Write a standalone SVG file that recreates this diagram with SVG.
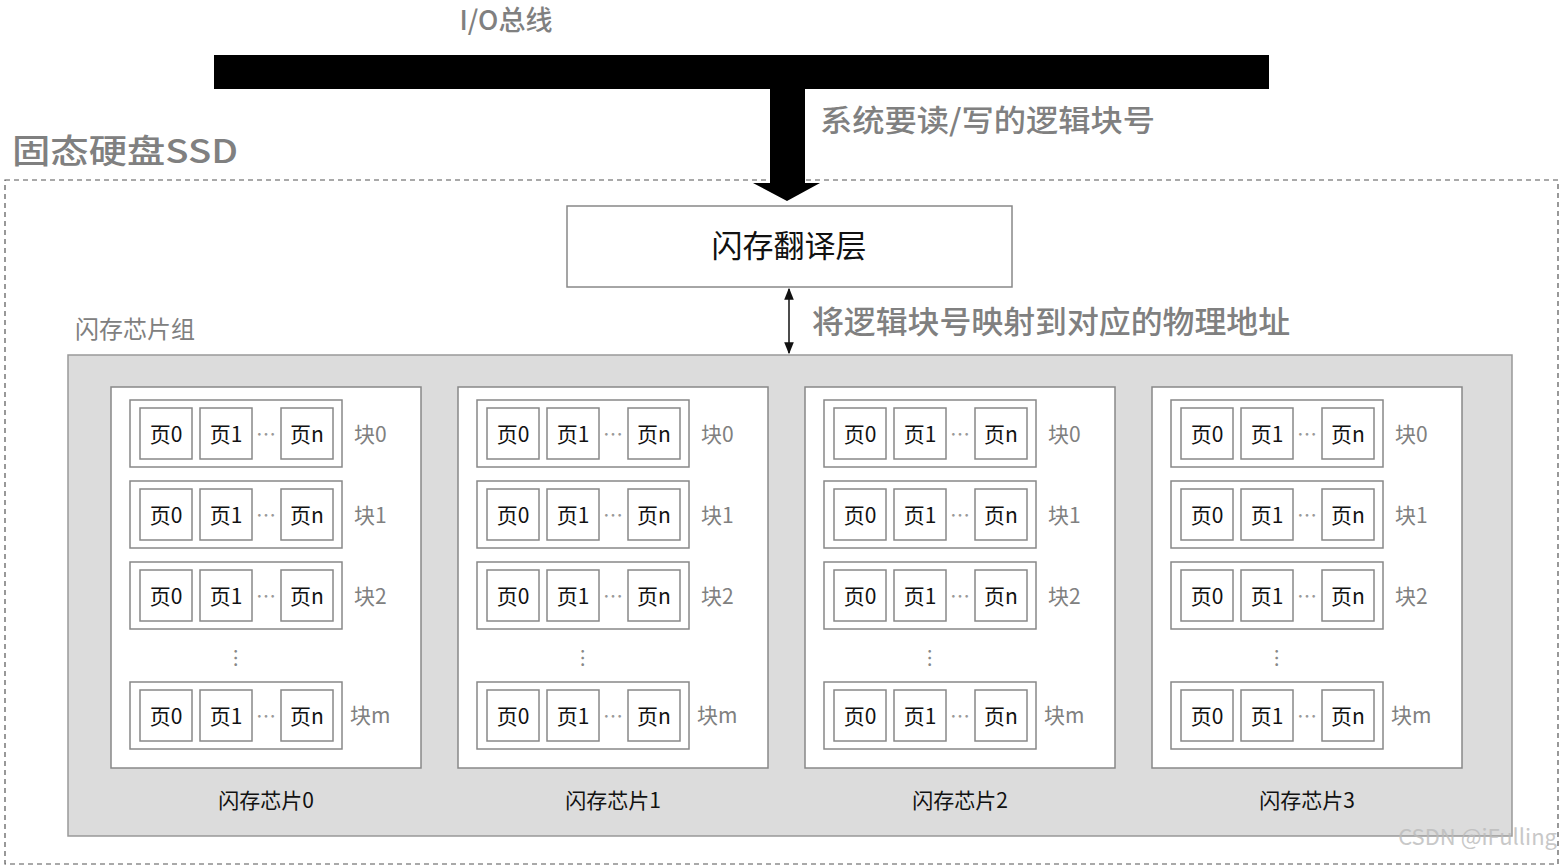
<svg xmlns="http://www.w3.org/2000/svg" xmlns:xlink="http://www.w3.org/1999/xlink" width="1563" height="867" viewBox="0 0 1563 867">
<style>
text{font-family:"Noto Sans CJK SC","Noto Sans",sans-serif;}
.g{fill:#808080}
.box{fill:#fff;stroke:#888;stroke-width:1.5}
.pg{font-size:21px;fill:#111;text-anchor:middle}
.bl{font-size:21px;fill:#808080}
</style>
<defs>
<marker id="ah" viewBox="0 0 10 10" refX="9" refY="5" markerWidth="8" markerHeight="8" orient="auto-start-reverse"><path d="M0,1 L10,5 L0,9 z" fill="#111"/></marker>
<g id="blk">
<rect class="box" x="0" y="0" width="212" height="67"/>
<rect class="box" x="10" y="8" width="52" height="51"/>
<rect class="box" x="70" y="8" width="52" height="51"/>
<rect class="box" x="151" y="8" width="52" height="51"/>
<text class="pg" x="36" y="42">页0</text>
<text class="pg" x="96" y="42">页1</text>
<text class="pg" x="177" y="42">页n</text>
<text x="136" y="42" font-size="20" fill="#999" text-anchor="middle">…</text>
</g>
<g id="chip">
<rect class="box" x="0" y="0" width="310" height="381"/>
<use xlink:href="#blk" x="19" y="13"/>
<use xlink:href="#blk" x="19" y="94"/>
<use xlink:href="#blk" x="19" y="175"/>
<use xlink:href="#blk" x="19" y="295"/>
<text class="bl" x="243" y="55">块0</text>
<text class="bl" x="243" y="136">块1</text>
<text class="bl" x="243" y="217">块2</text>
<text class="bl" x="239" y="336">块m</text>
<text x="129" y="283" font-size="20" fill="#888" text-anchor="middle" transform="rotate(90 129 271)">…</text>
</g>
</defs>
<rect width="1563" height="867" fill="#fff"/>
<g id="bus"><rect x="214" y="55" width="1055" height="34" fill="#000"/>
<text x="506" y="30" font-size="27" font-weight="500" class="g" text-anchor="middle">I/O总线</text></g>
<g id="ssd"><rect x="5" y="180" width="1553" height="684" fill="none" stroke="#555" stroke-width="1.2" stroke-dasharray="5,4"/>
<text x="12" y="163" font-size="33" font-weight="500" class="g" textLength="226" lengthAdjust="spacingAndGlyphs">固态硬盘SSD</text></g>
<g id="group"><rect x="68" y="355" width="1444" height="481" fill="#dcdcdc" stroke="#999" stroke-width="1.5"/>
<text x="75" y="338" font-size="24" class="g">闪存芯片组</text></g>
<g id="ftl"><rect class="box" x="567" y="206" width="445" height="81"/>
<text x="789" y="257" font-size="31" fill="#111" text-anchor="middle">闪存翻译层</text></g>
<g id="chip0"><use xlink:href="#chip" x="111" y="387"/><text x="266" y="808" font-size="21" fill="#111" text-anchor="middle">闪存芯片0</text></g>
<g id="chip1"><use xlink:href="#chip" x="458" y="387"/><text x="613" y="808" font-size="21" fill="#111" text-anchor="middle">闪存芯片1</text></g>
<g id="chip2"><use xlink:href="#chip" x="805" y="387"/><text x="960" y="808" font-size="21" fill="#111" text-anchor="middle">闪存芯片2</text></g>
<g id="chip3"><use xlink:href="#chip" x="1152" y="387"/><text x="1307" y="808" font-size="21" fill="#111" text-anchor="middle">闪存芯片3</text></g>
<g id="connectors">
<path d="M770,55 H805 V183 H820 L787,201 L753,183 H770 Z" fill="#000"/>
<text x="820" y="131" font-size="30" font-weight="500" class="g" textLength="335" lengthAdjust="spacingAndGlyphs">系统要读/写的逻辑块号</text>
<line x1="789" y1="289" x2="789" y2="353" stroke="#111" stroke-width="1.5" marker-start="url(#ah)" marker-end="url(#ah)"/>
<text x="812" y="333" font-size="31" font-weight="500" class="g" textLength="478" lengthAdjust="spacingAndGlyphs">将逻辑块号映射到对应的物理地址</text>
</g>
<text x="1557" y="845" font-size="22" fill="#bbb" text-anchor="end" opacity="0.8">CSDN @iFulling</text>
</svg>
